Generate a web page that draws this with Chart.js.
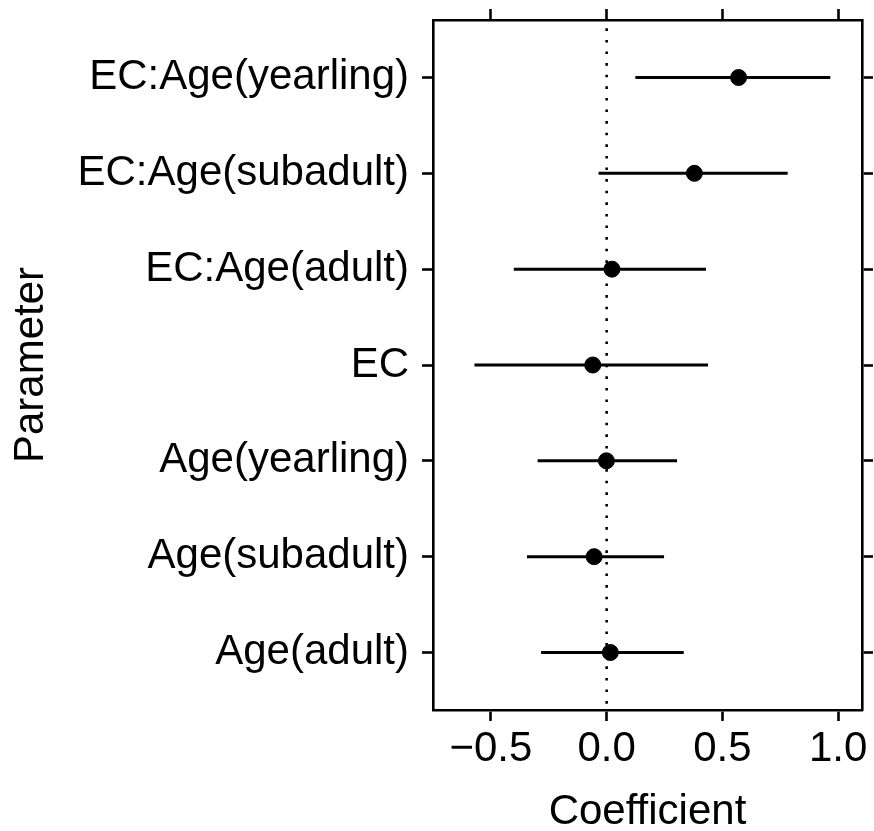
<!DOCTYPE html>
<html>
<head>
<meta charset="utf-8">
<script src="https://cdn.jsdelivr.net/npm/chart.js@4"></script>
<style>
  html, body { margin: 0; padding: 0; background: #fff; }
  #wrap { width: 874px; height: 831px; }
</style>
</head>
<body>
<div id="wrap"><canvas id="coefChart"></canvas></div>
<script>
// Parameters, top to bottom
const params = [
  'EC:Age(yearling)', 'EC:Age(subadult)', 'EC:Age(adult)', 'EC',
  'Age(yearling)', 'Age(subadult)', 'Age(adult)'
];

// Estimates and interval ends
const estimate = [0.570, 0.379, 0.023, -0.060, -0.001, -0.054, 0.016];
const lower = [0.124, -0.035, -0.401, -0.571, -0.298, -0.344, -0.283];
const upper = [0.966, 0.782, 0.429, 0.438, 0.304, 0.248, 0.333];

const xTickValues = [-0.5, 0, 0.5, 1.0];
const xTickLabels = ['\u22120.5', '0.0', '0.5', '1.0'];

document.addEventListener('DOMContentLoaded', function () {
  const ctx = document.getElementById('coefChart').getContext('2d');
  Chart.defaults.font.family = '"Liberation Sans", Arial, sans-serif';
  Chart.defaults.color = '#000';

  const black = '#000';
  const fontSize = 42;

  // one short line per interval
  const intervalSets = params.map((p, i) => ({
    type: 'scatter',
    showLine: true,
    data: [{ x: lower[i], y: i }, { x: upper[i], y: i }],
    borderColor: black,
    borderWidth: 3,
    pointRadius: 0,
    order: 1
  }));

  const zeroLine = {
    type: 'scatter',
    showLine: true,
    data: [{ x: 0, y: -0.6 }, { x: 0, y: 6.6 }],
    borderColor: black,
    borderWidth: 2.6,
    borderDash: [2.6, 9],
    borderDashOffset: 3.3,
    pointRadius: 0,
    order: 2
  };

  const pointSet = {
    type: 'scatter',
    data: estimate.map((v, i) => ({ x: v, y: i })),
    backgroundColor: black,
    borderColor: black,
    borderWidth: 1,
    pointRadius: 8,
    order: 0
  };

  const frameGrid = {
    drawOnChartArea: false,
    drawTicks: true,
    tickLength: 11,
    tickWidth: 2.6,
    tickColor: black
  };
  const frameBorder = { display: true, color: black, width: 2.6 };

  function fixSize(prop, size) {
    return function (scale) {
      scale[prop] = size;
      scale.paddingTop = 0;
      scale.paddingBottom = 0;
      scale.paddingLeft = 0;
      scale.paddingRight = 0;
    };
  }
  const setXTicks = s => { s.ticks = xTickValues.map(v => ({ value: v })); };
  const setYTicks = s => { s.ticks = params.map((_, i) => ({ value: i })); };

  new Chart(ctx, {
    type: 'scatter',
    data: { datasets: [zeroLine, ...intervalSets, pointSet] },
    options: {
      responsive: true,
      maintainAspectRatio: false,
      animation: false,
      layout: { padding: 0 },
      plugins: { legend: { display: false }, tooltip: { enabled: false } },
      scales: {
        x: {
          type: 'linear', position: 'bottom', min: -0.75, max: 1.103,
          afterBuildTicks: setXTicks,
          afterFit: fixSize('height', 121),
          grid: frameGrid, border: frameBorder,
          ticks: {
            padding: 3,
            font: { size: fontSize, lineHeight: 1.2 },
            callback: v => xTickLabels[xTickValues.indexOf(v)]
          },
          title: {
            display: true, text: 'Coefficient',
            font: { size: fontSize, lineHeight: 0.9 },
            padding: { top: 0, bottom: 0 }
          }
        },
        x2: {
          type: 'linear', position: 'top', min: -0.75, max: 1.103,
          afterBuildTicks: setXTicks,
          afterFit: fixSize('height', 20),
          grid: frameGrid, border: frameBorder,
          ticks: { display: false }
        },
        y: {
          type: 'linear', position: 'left', min: -0.6, max: 6.6, reverse: true,
          afterBuildTicks: setYTicks,
          afterFit: fixSize('width', 433),
          grid: frameGrid, border: frameBorder,
          ticks: {
            padding: 13,
            font: { size: fontSize, lineHeight: 1.2 },
            callback: v => params[v]
          },
          title: {
            display: true, text: 'Parameter',
            font: { size: fontSize, lineHeight: 1 },
            padding: { top: 10, bottom: 0 }
          }
        },
        y2: {
          type: 'linear', position: 'right', min: -0.6, max: 6.6, reverse: true,
          afterBuildTicks: setYTicks,
          afterFit: fixSize('width', 12),
          grid: frameGrid, border: frameBorder,
          ticks: { display: false }
        }
      }
    }
  });
});
</script>
</body>
</html>
